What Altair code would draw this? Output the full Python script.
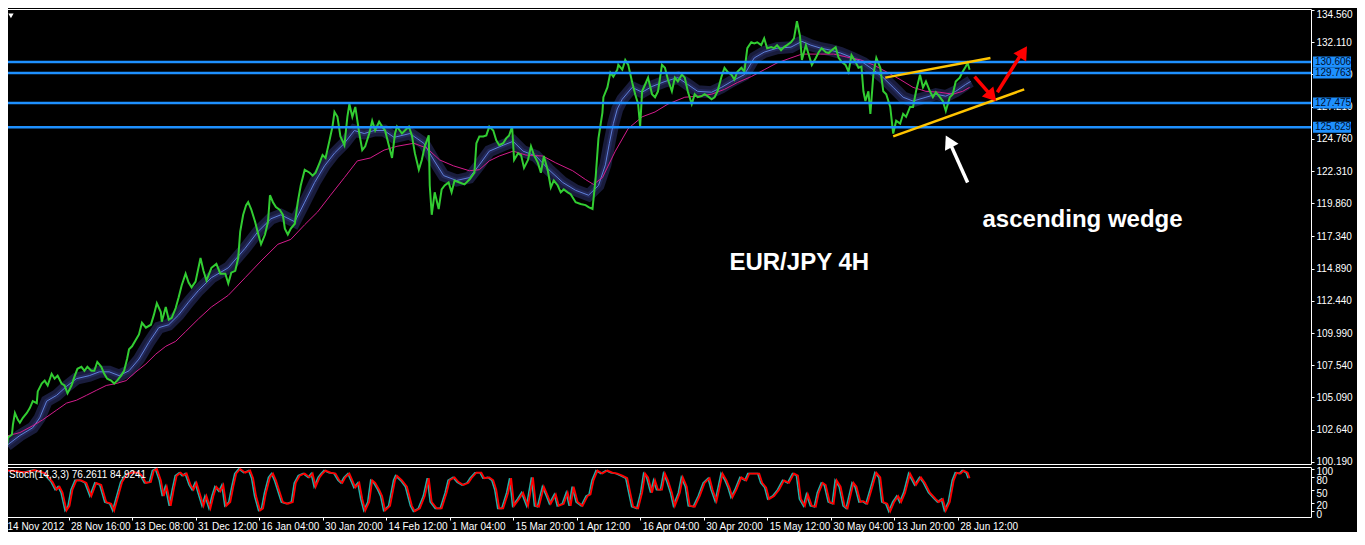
import altair as alt
import pandas as pd

# ---------------- data ----------------
price_bar = [6, 8, 12, 13, 15, 18, 20, 23, 27, 30, 33, 37, 38, 42, 45, 48, 52, 55, 58, 62, 65, 68, 72, 75, 78, 82, 85, 88, 92, 95,
             98, 102, 105, 108, 112, 115, 118, 122, 125, 128, 130, 133, 137, 140, 143, 147, 152, 155, 158, 162, 163, 167, 170, 173,
             177, 180, 183, 187, 190, 193, 197, 202, 205, 208, 213, 218, 222, 227, 230, 233, 237, 240, 242, 245, 248, 250, 253, 257,
             260, 263, 267, 270, 272, 275, 278, 282, 285, 287, 290, 293, 297, 300, 303, 307, 312, 315, 318, 322, 325, 328, 332, 335,
             337, 340, 343, 347, 350, 352, 355, 358, 362, 365, 368, 372, 375, 378, 382, 385, 388, 392, 395, 398, 400, 405, 408, 412,
             415, 418, 422, 425, 428, 432, 433, 435, 438, 442, 445, 448, 452, 455, 458, 463, 468, 473, 478, 480, 483, 487, 490, 493,
             497, 500, 503, 507, 510, 513, 516, 518, 522, 525, 528, 532, 535, 538, 542, 545, 548, 552, 555, 558, 562, 565, 568, 572,
             575, 580, 585, 590, 593, 597, 600, 603, 607, 608, 612, 615, 618, 622, 623, 627, 630, 633, 637, 640, 643, 645, 647, 650,
             653, 657, 660, 663, 667, 670, 673, 677, 680, 683, 687, 690, 693, 697, 700, 703, 707, 710, 713, 717, 720, 723, 727, 730,
             733, 737, 740, 743, 747, 750, 753, 757, 760, 763, 767, 770, 773, 777, 780, 783, 787, 790, 793, 797, 800, 803, 806, 808,
             812, 815, 818, 822, 825, 828, 832, 835, 838, 842, 845, 848, 852, 855, 858, 862, 865, 868, 870, 872, 875, 877, 880, 883,
             887, 890, 893, 897, 900, 903, 907, 910, 913, 917, 920, 923, 927, 930, 933, 937, 940, 943, 947, 950, 953, 957, 960, 963,
             967, 970, 973, 975, 977]
price_val = [100.78, 102.05, 102.27, 103.02, 103.91, 103.39, 103.17, 103.54, 103.91, 104.28, 104.81, 104.66, 105.55, 106.15, 106.37,
             106.00, 106.89, 106.52, 106.75, 106.15, 106.00, 105.40, 106.00, 106.67, 107.27, 107.42, 107.12, 107.42, 107.12, 107.12,
             107.79, 107.42, 106.89, 106.52, 106.37, 106.15, 106.37, 106.75, 107.12, 108.01, 108.76, 108.98, 109.50, 109.88, 110.77,
             110.40, 110.62, 111.37, 112.26, 111.59, 110.85, 111.97, 111.00, 111.15, 111.89, 112.71, 113.61, 114.50, 113.83, 113.46,
             113.90, 115.69, 114.72, 113.98, 114.95, 115.25, 114.50, 114.50, 113.76, 114.58, 114.72, 115.69, 117.71, 118.98, 119.72,
             119.94, 119.42, 118.45, 117.56, 116.74, 117.48, 118.45, 120.47, 119.94, 119.57, 119.35, 118.98, 117.93, 117.48, 117.93,
             118.30, 119.94, 121.21, 122.41, 122.18, 121.96, 122.18, 122.93, 123.52, 123.30, 124.64, 125.69, 126.80, 126.43, 124.94,
             124.27, 126.43, 127.40, 126.43, 127.18, 125.16, 123.90, 124.19, 125.16, 126.13, 125.39, 126.06, 125.69, 125.39, 124.19,
             123.30, 125.16, 125.69, 125.16, 125.39, 125.69, 125.02, 123.67, 122.41, 123.15, 124.19, 125.02, 121.21, 118.98, 120.69,
             119.42, 120.91, 121.21, 121.44, 120.69, 121.59, 121.44, 121.29, 121.66, 122.18, 124.42, 124.94, 124.94, 125.02, 125.69,
             125.39, 124.64, 124.27, 124.42, 124.79, 125.02, 125.69, 123.15, 123.67, 123.52, 122.55, 123.15, 124.19, 123.52, 122.93,
             122.18, 123.45, 122.33, 121.06, 121.59, 121.21, 120.69, 120.91, 120.69, 120.54, 119.94, 119.80, 119.72, 119.57, 119.42,
             121.66, 124.80, 126.75, 127.92, 128.67, 129.79, 129.49, 130.01, 130.38, 130.01, 130.76, 130.38, 129.04, 128.15, 127.40,
             125.69, 128.37, 128.89, 129.41, 128.15, 127.92, 128.37, 130.38, 130.16, 129.27, 128.37, 129.41, 129.12, 129.64, 129.41,
             128.37, 127.40, 128.15, 127.92, 128.00, 128.15, 128.00, 127.77, 127.92, 128.37, 129.49, 130.16, 129.86, 129.64, 129.27,
             129.86, 130.16, 129.86, 131.65, 132.10, 132.02, 132.10, 131.88, 132.40, 131.65, 131.73, 131.65, 131.88, 131.50, 131.73,
             131.88, 132.10, 132.40, 133.70, 132.62, 130.76, 131.88, 131.13, 130.38, 130.91, 131.35, 131.65, 131.35, 131.28, 131.50,
             131.73, 130.91, 130.61, 130.38, 129.86, 131.13, 130.61, 130.16, 130.24, 128.37, 127.63, 128.37, 126.66, 129.64, 130.91,
             130.16, 128.37, 128.15, 127.18, 125.16, 126.13, 125.91, 126.66, 126.43, 127.18, 127.18, 128.37, 129.64, 128.67, 129.12,
             128.37, 127.92, 128.30, 127.92, 127.63, 126.88, 127.92, 128.15, 129.12, 129.41, 129.86, 130.24, 130.53, 130.01]

slow_ma_bar = [5, 20, 33, 43, 57, 67, 77, 87, 97, 107, 117, 127, 137, 147, 157, 167, 177, 187, 200, 213, 230, 247, 263, 280, 293,
               307, 320, 333, 347, 360, 373, 387, 400, 417, 430, 443, 457, 473, 483, 493, 503, 517, 530, 547, 560, 577, 590, 598,
               607, 620, 633, 647, 660, 673, 690, 703, 717, 730, 743, 757, 770, 783, 797, 808, 827, 840, 853, 867, 880, 893, 907,
               920, 933, 947, 960, 970, 977]
slow_ma_val = [102.12, 102.42, 102.94, 103.39, 104.13, 104.66, 104.88, 105.25, 105.63, 106.00, 106.15, 106.37, 107.04, 107.64,
               108.39, 108.98, 109.36, 110.10, 111.07, 111.97, 112.86, 114.20, 115.47, 116.74, 117.11, 118.23, 119.20, 120.47,
               121.81, 123.08, 123.30, 123.90, 124.19, 124.42, 124.05, 123.15, 122.70, 122.33, 122.41, 123.08, 123.45, 123.82,
               123.52, 123.45, 122.93, 122.33, 121.66, 121.29, 121.81, 123.82, 125.54, 126.43, 126.80, 127.40, 127.92, 128.00,
               128.15, 128.52, 129.04, 129.49, 130.01, 130.53, 130.91, 131.20, 131.20, 131.20, 130.98, 130.76, 130.38, 129.86,
               129.27, 128.67, 128.37, 128.30, 128.15, 128.37, 128.67]

fast_ma_bar = [7, 20, 33, 40, 47, 57, 67, 77, 90, 100, 110, 120, 130, 140, 150, 160, 170, 180, 190, 200, 213, 230, 247, 260, 273,
               283, 297, 307, 317, 327, 337, 347, 357, 367, 377, 387, 397, 413, 427, 437, 447, 460, 473, 483, 493, 507, 517, 527,
               540, 553, 567, 580, 593, 603, 610, 614, 618, 622, 627, 637, 647, 657, 670, 683, 693, 703, 717, 727, 737, 750, 760,
               770, 783, 797, 808, 817, 827, 837, 847, 857, 870, 880, 890, 900, 910, 920, 933, 943, 953, 963, 973, 978]
fast_ma_val = [101.45, 102.20, 102.79, 103.54, 104.81, 105.25, 105.93, 106.52, 106.75, 107.04, 107.04, 106.75, 107.12, 108.01,
               109.28, 110.40, 110.62, 111.37, 112.34, 113.23, 114.20, 114.95, 116.44, 117.71, 118.68, 118.98, 118.45, 119.94,
               121.44, 122.70, 123.67, 124.42, 125.39, 125.16, 125.39, 125.39, 124.87, 125.16, 124.42, 123.15, 121.96, 121.59,
               121.81, 122.78, 123.82, 124.27, 124.57, 123.82, 123.45, 122.41, 121.44, 120.84, 120.47, 121.21, 122.78, 124.42,
               125.91, 127.03, 127.77, 128.67, 128.30, 128.74, 129.12, 129.41, 128.89, 128.37, 128.30, 128.67, 129.12, 129.64,
               130.91, 131.35, 131.65, 131.73, 132.17, 131.88, 131.65, 131.50, 131.28, 130.98, 130.53, 130.01, 129.41, 128.67,
               127.92, 127.63, 127.92, 128.15, 128.00, 128.37, 128.89, 129.12]

stoch_bar = [6, 7, 15, 25, 35, 45, 53, 57, 60, 63, 67, 70, 73, 77, 82, 87, 92, 97, 102, 107, 112, 115, 120, 123, 128, 135, 140,
             143, 147, 152, 155, 158, 162, 165, 168, 172, 175, 178, 182, 185, 188, 192, 195, 198, 202, 205, 208, 212, 215, 218,
             222, 225, 228, 232, 235, 238, 242, 247, 252, 255, 258, 262, 265, 268, 272, 275, 278, 282, 285, 290, 295, 298, 302,
             307, 312, 315, 318, 322, 325, 328, 333, 338, 342, 345, 348, 352, 355, 358, 362, 365, 368, 372, 375, 378, 382, 385,
             388, 393, 398, 400, 405, 410, 415, 418, 423, 428, 432, 435, 440, 445, 450, 453, 458, 462, 467, 472, 475, 480, 485,
             488, 493, 497, 500, 503, 507, 512, 515, 518, 523, 527, 532, 537, 540, 543, 548, 552, 555, 560, 563, 568, 572, 575,
             578, 582, 587, 592, 595, 598, 602, 607, 612, 617, 622, 627, 632, 635, 638, 643, 647, 650, 653, 657, 660, 663, 667,
             670, 673, 677, 680, 685, 688, 692, 695, 700, 705, 710, 715, 718, 722, 725, 728, 732, 735, 738, 742, 747, 752, 755,
             760, 765, 768, 772, 775, 780, 785, 790, 795, 800, 804, 807, 811, 814, 818, 822, 825, 829, 832, 836, 840, 843, 847,
             851, 854, 860, 863, 867, 870, 874, 879, 883, 887, 890, 894, 897, 901, 905, 908, 912, 917, 923, 928, 932, 937, 943,
             946, 950, 953, 957, 961, 964, 968, 971, 975, 977]
stoch_val = [44, 96, 95, 92, 97, 90, 69, 51, 58, 44, 2, 13, 51, 73, 73, 67, 36, 67, 62, 22, 18, 2, 44, 69, 88, 92, 90,
             84, 67, 69, 96, 100, 73, 36, 58, 13, 51, 84, 91, 84, 89, 62, 51, 67, 36, 13, 36, 7, 36, 58,
             47, 62, 13, 22, 58, 89, 100, 91, 96, 78, 36, 2, 7, 44, 80, 89, 73, 44, 22, 18, 22, 67, 84,
             89, 80, 89, 58, 80, 89, 96, 91, 89, 73, 67, 80, 89, 73, 56, 67, 29, 2, 22, 73, 67, 51, 36,
             2, 13, 73, 84, 73, 58, 13, 0, 7, 36, 78, 22, 7, 7, 44, 73, 80, 69, 62, 67, 78, 91, 91,
             78, 80, 73, 51, 7, 7, 44, 78, 13, 29, 44, 13, 80, 13, 11, 58, 36, 18, 40, 13, 18, 44, 13,
             58, 22, 13, 36, 40, 73, 96, 89, 96, 91, 89, 84, 78, 44, 11, 7, 44, 89, 80, 44, 73, 51, 51,
             89, 73, 44, 13, 44, 80, 58, 13, 11, 36, 67, 78, 51, 24, 56, 89, 73, 56, 33, 51, 80, 73, 89,
             89, 89, 67, 56, 29, 36, 51, 73, 67, 89, 84, 29, 13, 40, 13, 11, 44, 67, 62, 22, 18, 73, 58,
             13, 7, 67, 58, 22, 24, 18, 58, 91, 80, 22, 18, 0, 22, 36, 22, 44, 89, 62, 80, 67, 44, 29,
             22, 29, 2, 22, 73, 91, 89, 96, 91, 78]

level_val = [130.606, 129.763, 127.475, 125.629]
level_lab = ["130.606", "129.763", "127.475", "125.629"]

price_ticks = [134.56, 132.11, 129.66, 127.21, 124.76, 122.31, 119.86, 117.34, 114.89, 112.44, 109.99, 107.54, 105.09,
               102.64, 100.19]
stoch_ticks = [0, 20, 50, 80, 100]
time_tick_bar = [5, 69, 133, 197, 261, 325, 389, 453, 517, 581, 645, 709, 773, 837, 901, 965]
time_tick_lab = ["14 Nov 2012", "28 Nov 16:00", "13 Dec 08:00", "31 Dec 12:00", "16 Jan 04:00", "30 Jan 20:00",
                 "14 Feb 12:00", "1 Mar 04:00", "15 Mar 20:00", "1 Apr 12:00", "16 Apr 04:00", "30 Apr 20:00",
                 "15 May 12:00", "30 May 04:00", "13 Jun 20:00", "28 Jun 12:00"]

# wedge trend lines: start bar, start price, end bar, end price
wedge_bar = [892, 900]
wedge_val = [129.41, 124.94]
wedge_bar2 = [998, 1032]
wedge_val2 = [130.91, 128.52]

# arrows: shaft start/end, head position and heading (degrees)
arrow_bar = [982, 1005, 975]
arrow_val = [129.49, 128.30, 121.44]
arrow_bar2 = [997, 1029, 958]
arrow_val2 = [128.20, 131.20, 124.30]
arrow_head_bar = [998, 1030, 957]
arrow_head_val = [128.11, 131.23, 124.41]
arrow_angle = [139, 33, 333]
arrow_color = ["#ff0000", "#ff0000", "#ffffff"]

notes_text = ["ascending wedge", "EUR/JPY 4H"]
notes_bar = [990, 735]
notes_val = [118.60, 115.32]

stoch_caption = "Stoch(14,3,3) 76.2611 84.9241"

# ---------------- layout ----------------
W = 1306
H_MAIN = 455
H_STOCH = 50
FONT = "Liberation Sans"

xscale = alt.Scale(domain=[5, 1321], nice=False, zero=False)
pscale = alt.Scale(domain=[100.03, 134.63], nice=False, zero=False)
sscale = alt.Scale(domain=[-13.3, 104.4], nice=False, zero=False)

x_main = alt.X("bar:Q", scale=xscale, axis=None)
y_main = alt.Y("val:Q", scale=pscale,
               axis=alt.Axis(orient="right", values=price_ticks, format=".3f", title=None, grid=False,
                             domain=False, ticks=True, tickColor="white", tickSize=3, labelColor="white",
                             labelFont=FONT, labelFontSize=10, labelPadding=2, labelOverlap=False,
                             labelBound=False, labelFlush=1.5))

price_df = pd.DataFrame({"bar": price_bar, "val": price_val})
slow_df = pd.DataFrame({"bar": slow_ma_bar, "val": slow_ma_val})
fast_df = pd.DataFrame({"bar": fast_ma_bar, "val": fast_ma_val})
level_df = pd.DataFrame({"val": level_val, "lab": level_lab})
wedge_df = pd.DataFrame({"bar": wedge_bar, "val": wedge_val, "bar2": wedge_bar2, "val2": wedge_val2})
arrow_df = pd.DataFrame({"bar": arrow_bar, "val": arrow_val, "bar2": arrow_bar2, "val2": arrow_val2,
                         "col": arrow_color})
head_df = pd.DataFrame({"bar": arrow_head_bar, "val": arrow_head_val, "ang": arrow_angle, "col": arrow_color})
notes_df = pd.DataFrame({"bar": notes_bar, "val": notes_val, "txt": notes_text})
marker_df = pd.DataFrame({"bar": [11], "val": [134.11]})

band_outer = alt.Chart(fast_df).mark_line(color="#191c3c", strokeWidth=12).encode(x=x_main, y=y_main)
band_mid = alt.Chart(fast_df).mark_line(color="#232858", strokeWidth=5).encode(x=x_main, y=y_main)
band_line = alt.Chart(fast_df).mark_line(color="#5f80d8", strokeWidth=1).encode(x=x_main, y=y_main)
slow_line = alt.Chart(slow_df).mark_line(color="#d41c8c", strokeWidth=1).encode(x=x_main, y=y_main)
price_line = alt.Chart(price_df).mark_line(color="#32cd32", strokeWidth=2).encode(x=x_main, y=y_main)
level_rules = alt.Chart(level_df).mark_rule(color="#1e90ff", strokeWidth=2.5).encode(y=y_main)
wedge_rules = alt.Chart(wedge_df).mark_rule(color="#ffc400", strokeWidth=2.5).encode(
    x=x_main, y=y_main, x2="bar2:Q", y2="val2:Q")
arrow_rules = alt.Chart(arrow_df).mark_rule(strokeWidth=3.5).encode(
    x=x_main, y=y_main, x2="bar2:Q", y2="val2:Q", color=alt.Color("col:N", scale=None))
arrow_heads = alt.Chart(head_df).mark_point(shape="triangle", filled=True, size=230, opacity=1).encode(
    x=x_main, y=y_main, angle=alt.Angle("ang:Q", scale=None), color=alt.Color("col:N", scale=None))
notes = alt.Chart(notes_df).mark_text(align="left", baseline="middle", font=FONT, fontSize=24,
                                      fontWeight="bold", color="white").encode(x=x_main, y=y_main, text="txt:N")
marker = alt.Chart(marker_df).mark_point(shape="triangle-down", filled=True, size=28, color="white",
                                         opacity=1).encode(x=x_main, y=y_main)
box_rules = alt.Chart(level_df).mark_rule(color="#1e90ff", strokeWidth=11).encode(
    x=alt.value(W + 2), x2=alt.value(W + 40), y=y_main)
box_text = alt.Chart(level_df).mark_text(align="left", baseline="middle", font=FONT, fontSize=10,
                                         color="#001030").encode(x=alt.value(W + 4), y=y_main, text="lab:N")

main = alt.layer(band_outer, band_mid, band_line, slow_line, price_line, level_rules, wedge_rules,
                 arrow_rules, arrow_heads, notes, marker, box_rules, box_text).properties(width=W, height=H_MAIN)

label_expr = "[" + ",".join("'" + s + "'" for s in time_tick_lab) + "][indexof([" + \
             ",".join(str(v) for v in time_tick_bar) + "], datum.value)]"

x_stoch = alt.X("bar:Q", scale=xscale,
                axis=alt.Axis(values=time_tick_bar, labelExpr=label_expr, title=None, grid=False, domain=False,
                              tickColor="white", tickSize=3, labelColor="white", labelFont=FONT,
                              labelFontSize=10, labelAlign="left", labelOffset=2, labelPadding=1,
                              labelOverlap=False, labelFlush=False, labelBound=False))
y_stoch = alt.Y("val:Q", scale=sscale,
                axis=alt.Axis(orient="right", values=stoch_ticks, format="d", title=None, grid=False,
                              domain=False, tickColor="white", tickSize=3, labelColor="white", labelFont=FONT,
                              labelFontSize=10, labelPadding=2, labelOverlap=False, labelBound=False,
                              labelFlush=False, labelOffset=3))

stoch_df = pd.DataFrame({"bar": stoch_bar, "val": stoch_val})
caption_df = pd.DataFrame({"txt": [stoch_caption]})

stoch_k = alt.Chart(stoch_df).mark_line(color="#20b2aa", strokeWidth=1.6, xOffset=-1.5).encode(x=x_stoch, y=y_stoch)
stoch_d = alt.Chart(stoch_df).mark_line(color="#ff0000", strokeWidth=1.8).encode(x=x_stoch, y=y_stoch)
caption = alt.Chart(caption_df).mark_text(align="left", baseline="top", font=FONT, fontSize=10,
                                          color="white").encode(x=alt.value(4), y=alt.value(3), text="txt:N")

stoch = alt.layer(stoch_k, stoch_d, caption).properties(width=W, height=H_STOCH)

chart = alt.vconcat(main, stoch, spacing=3, bounds="flush").resolve_scale(
    x="independent", y="independent").properties(
    padding={"left": -26, "top": 0, "right": 0, "bottom": 0}, background="black").configure_view(
    stroke="white", strokeWidth=1)

chart.save("out.html", embed_options={"renderer": "svg", "actions": False})
